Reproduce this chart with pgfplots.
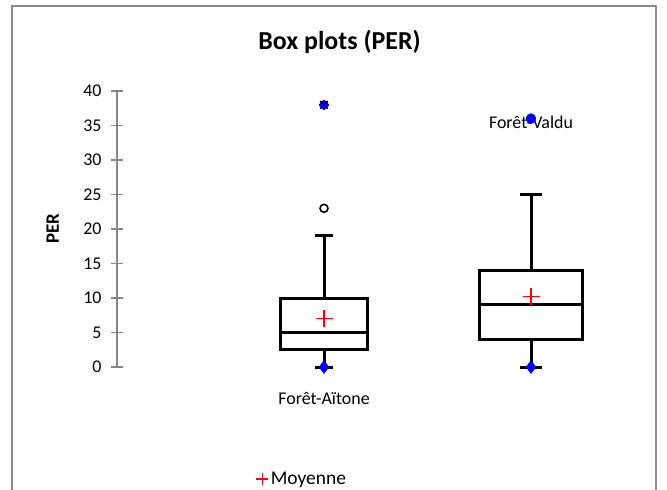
\documentclass[border=0pt]{standalone}
\usepackage{pgfplots}
\pgfplotsset{compat=1.18}
\usepgfplotslibrary{statistics}
\usepackage{fontspec}
\setmainfont{Carlito}
\definecolor{framegray}{RGB}{140,140,140}
\definecolor{axisgray}{RGB}{134,134,134}
\begin{document}
\begin{tikzpicture}
\path[use as bounding box] (0bp,0bp) rectangle (667bp,-490bp);
\draw[framegray, line width=1.6bp] (12bp,-530bp) -- (12bp,-6bp) -- (656bp,-6bp) -- (656bp,-530bp);
\begin{axis}[
  at={(117bp,-367bp)}, anchor=south west,
  scale only axis, width=517.5bp, height=276bp,
  xmin=0, xmax=2.5, ymin=0, ymax=40,
  clip=false,
  boxplot/draw direction=y,
  axis x line=none, axis y line=left,
  axis line style={-, draw=axisgray, line width=1.3bp},
  ytick={0,5,...,40},
  tick align=center, major tick length=12bp,
  tick style={draw=axisgray, line width=1.3bp},
  /pgf/number format/assume math mode=true,
  yticklabel style={font=\fontsize{18}{18}\selectfont, xshift=-6bp},
  ylabel={\textbf{PER}},
  ylabel style={font=\fontsize{19}{19}\selectfont, at={(axis description cs:-0.124,0.5)}, anchor=center},
  title={\textbf{Box plots (PER)}},
  title style={font=\fontsize{26}{26}\selectfont, at={(axis description cs:0.43,1.156)}, anchor=center},
  legend style={draw=none, fill=none, font=\fontsize{19.5}{19.5}\selectfont,
    at={(axis description cs:0.357,-0.406)}, anchor=center},
  legend cell align=left,
  legend image code/.code={\draw[red, line width=1.4bp] (0.1cm,0cm) -- (0.52cm,0cm) (0.31cm,-0.21cm) -- (0.31cm,0.21cm);},
]
% Foret-Aitone
\addplot[boxplot prepared={draw position=1, lower whisker=0, lower quartile=2.5,
  median=5, upper quartile=10, upper whisker=19, box extend=0.42, whisker extend=0.09},
  draw=black, line width=3bp, forget plot] coordinates {};
% Foret-Valdu
\addplot[boxplot prepared={draw position=2, lower whisker=0, lower quartile=4,
  median=9, upper quartile=14, upper whisker=25, box extend=0.5, whisker extend=0.105},
  draw=black, line width=3bp, forget plot] coordinates {};
% minima
\addplot[only marks, mark=diamond*, mark size=6.5bp, blue, forget plot] coordinates {(1,0) (2,0)};
% outliers
\addplot[only marks, mark=o, mark size=4bp, black, line width=1.6bp, forget plot] coordinates {(1,23)};
\addplot[only marks, mark=*, mark size=4.5bp, blue, forget plot] coordinates {(1,38)};
\addplot[only marks, mark=x, mark size=5.5bp, black, line width=1bp, forget plot] coordinates {(1,38)};
\addplot[only marks, mark=+, mark size=5bp, blue, line width=2bp, forget plot] coordinates {(1,38)};
\addplot[only marks, mark=*, mark size=5bp, blue, forget plot] coordinates {(2,36)};
% means
\addplot[only marks, mark=+, mark size=8.5bp, red, line width=1.3bp] coordinates {(1,7) (2,10.2)};
\addlegendentry{Moyenne}
\node[font=\fontsize{18}{18}\selectfont] at (axis cs:1,-4.5) {Forêt-Aïtone};
\node[font=\fontsize{18}{18}\selectfont] at (axis cs:2,35.4) {Forêt-Valdu};
\end{axis}
\end{tikzpicture}
\end{document}
